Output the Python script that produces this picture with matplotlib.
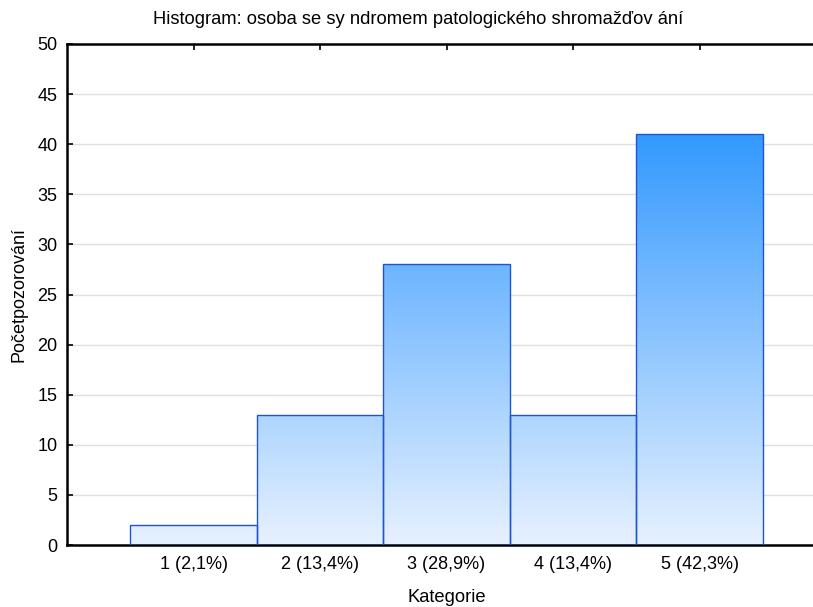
import numpy as np
import matplotlib.pyplot as plt
from matplotlib.colors import LinearSegmentedColormap, Normalize

plt.rcParams['font.family'] = ['Liberation Sans', 'DejaVu Sans']

categories = [1, 2, 3, 4, 5]
labels = ['1 (2,1%)', '2 (13,4%)', '3 (28,9%)', '4 (13,4%)', '5 (42,3%)']
counts = [2, 13, 28, 13, 41]

fig = plt.figure(figsize=(8.13, 6.07), dpi=100)
# axes right edge runs past the image edge, as in the reference
ax = fig.add_axes([67 / 813, 1 - 545 / 607, 759 / 813, 501 / 607])
ax.set_xlim(0, 6)
ax.set_ylim(0, 50)

cmap = LinearSegmentedColormap.from_list('bl', ['#e6f1fe', '#3399ff'])
grad = np.linspace(0, 50, 256).reshape(-1, 1)

bars = ax.bar(categories, counts, width=1.0, facecolor='none',
              edgecolor='#1f55cc', linewidth=1.0, zorder=3)
for b in bars:
    im = ax.imshow(grad, extent=[0, 6, 0, 50], origin='lower', aspect='auto',
                   cmap=cmap, norm=Normalize(0, 41), zorder=2)
    im.set_clip_path(b)

ax.set_xlim(0, 6)
ax.set_ylim(0, 50)
ax.set_yticks(range(0, 51, 5))
ax.set_xticks(categories)
ax.set_xticklabels(labels)
ax.yaxis.grid(True, color='#e0e0e0', linewidth=1.0, zorder=0)
ax.set_axisbelow(True)

for s in ax.spines.values():
    s.set_linewidth(1.8)
ax.spines['right'].set_visible(False)

ax.tick_params(axis='both', direction='in', length=4, width=1.2,
               labelsize=13, colors='black')
ax.tick_params(axis='x', top=True, pad=8)
ax.tick_params(axis='y', pad=7)

fig.text(418 / 813, 1 - 20 / 607, 'Histogram: osoba se sy ndromem patologického shromažďov ání',
         ha='center', va='center', fontsize=13.2)
fig.text(447 / 813, 1 - 598 / 607, 'Kategorie', ha='center', va='center', fontsize=13.2)
fig.text(19 / 813, 1 - 295 / 607, 'Početpozorování', ha='center', va='center',
         rotation=90, fontsize=13)

fig.savefig('out.png', dpi=100)
